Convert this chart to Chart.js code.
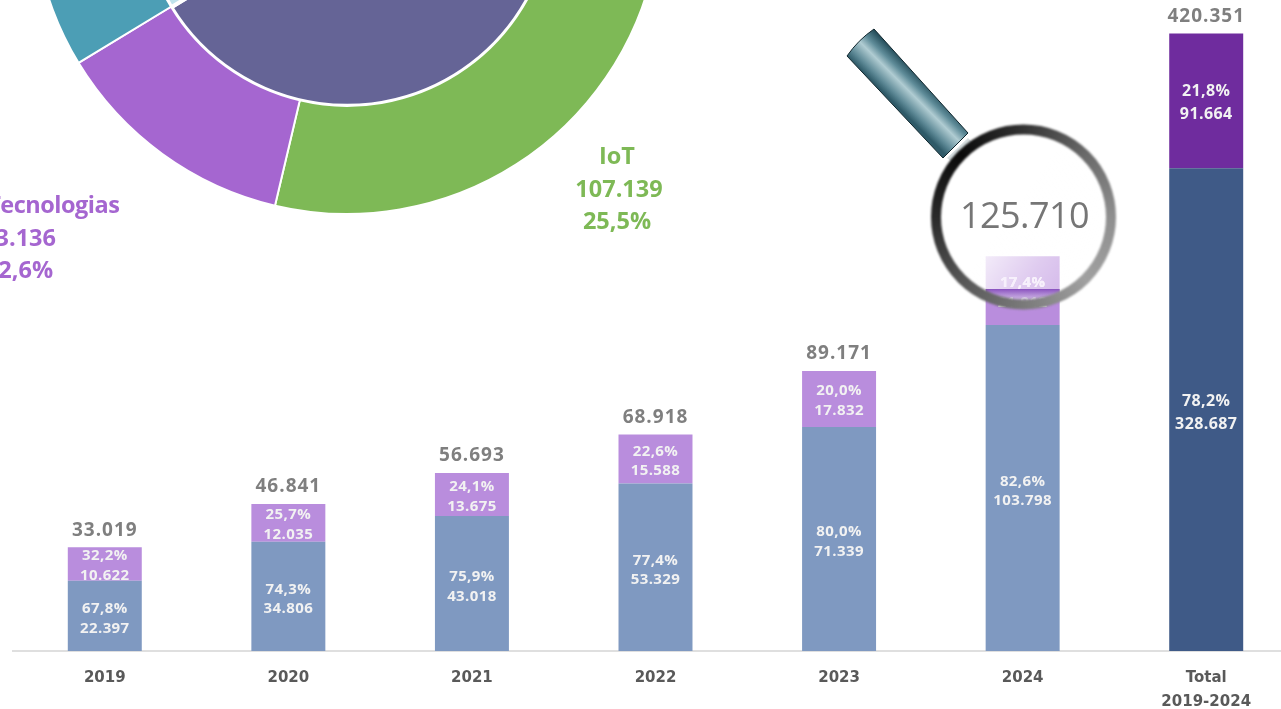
<!DOCTYPE html>
<html>
<head>
<meta charset="utf-8">
<style>
html,body{margin:0;padding:0;width:1281px;height:709px;overflow:hidden;background:#fff}
#wrap{position:relative;width:1281px;height:709px;overflow:hidden}
#ring{position:absolute;left:32px;top:-415px;filter:blur(.35px)}
#bars{position:absolute;left:0;top:0;filter:blur(.3px)}
</style>
<script src="https://cdn.jsdelivr.net/npm/chart.js@4/dist/chart.umd.min.js"></script>
</head>
<body>
<div id="wrap">
<canvas id="ring" width="630" height="630"></canvas>
<canvas id="bars" width="1298" height="709"></canvas>
</div>
<script>
const categories = ['2019','2020','2021','2022','2023','2024',['Total','2019-2024']];
const blueValues   = [22397,34806,43018,53329,71339,103798,null];
const purpleValues = [10622,12035,13675,15588,17832,21912,null];
const totalBlue    = [null,null,null,null,null,null,328687];
const totalPurple  = [null,null,null,null,null,null,91664];
const blueText   = ['22.397','34.806','43.018','53.329','71.339','103.798','328.687'];
const purpleText = ['10.622','12.035','13.675','15.588','17.832','21.912','91.664'];
const bluePct    = ['67,8%','74,3%','75,9%','77,4%','80,0%','82,6%','78,2%'];
const purplePct  = ['32,2%','25,7%','24,1%','22,6%','20,0%','17,4%','21,8%'];
const totalText  = ['33.019','46.841','56.693','68.918','89.171','125.710','420.351'];

const outerNames  = ['IoT','Otras Tecnologias','Resto'];
const outerValues = [107139,53136,260076];
const outerShares = ['25,5%','12,6%'];
const outerValueText = ['107.139','53.136'];
const innerValues = [328687,91664];

const FONT = '"Open Sans"';

new Chart(document.getElementById('ring'),{
  type:'doughnut',
  data:{labels:outerNames,datasets:[
    {data:outerValues,rotation:101.5,backgroundColor:['#7EB956','#A566D0','#4C9EB5'],borderColor:'#fff',borderWidth:2,hoverOffset:0,weight:108.5},
    {data:innerValues,rotation:-42.9,backgroundColor:['#656496','#BFE3EC'],borderColor:'#fff',borderWidth:4,hoverOffset:0,weight:206.5}
  ]},
  options:{responsive:false,animation:false,cutout:0,events:[],
    plugins:{legend:{display:false},tooltip:{enabled:false}},layout:{padding:0}}
});

function text(ctx,s,x,y,font,color,spacing){
  ctx.font=font;ctx.fillStyle=color;ctx.textAlign='center';ctx.textBaseline='middle';
  ctx.letterSpacing=spacing||'0px';
  ctx.fillText(s,x,y+2);
  ctx.letterSpacing='0px';
}

function drawMagnifier(ctx,bar){
  const cx=1023.5,cy=217;
  ctx.save();
  const hg=ctx.createLinearGradient(847,56,874,29);
  hg.addColorStop(0,'#2f5a68');hg.addColorStop(.18,'#5b8794');hg.addColorStop(.5,'#b0ccd2');
  hg.addColorStop(.72,'#5f8c99');hg.addColorStop(1,'#1f4855');
  ctx.beginPath();ctx.moveTo(874,29);ctx.lineTo(968,133);ctx.lineTo(943,158);ctx.lineTo(847,56);
  ctx.quadraticCurveTo(858,40,874,29);ctx.closePath();
  ctx.fillStyle=hg;ctx.fill();ctx.strokeStyle='#10262d';ctx.lineWidth=1;ctx.stroke();
  ctx.beginPath();ctx.moveTo(968,138);ctx.lineTo(972,142);ctx.lineTo(952,162);ctx.lineTo(947,158);ctx.closePath();
  ctx.fillStyle='#d8e0e2';ctx.fill();
  ctx.restore();
  // glass: whitening above its lower edge, darker refraction band below it
  ctx.save();
  ctx.beginPath();ctx.arc(cx,cy,84,0,Math.PI*2);ctx.clip();
  const lg=ctx.createLinearGradient(985,250,1055,300);
  lg.addColorStop(0,'rgba(255,255,255,.85)');
  lg.addColorStop(.6,'rgba(255,255,255,.55)');
  lg.addColorStop(1,'rgba(255,255,255,.4)');
  ctx.fillStyle=lg;ctx.fillRect(cx-90,cy-90,180,162);
  const dg=ctx.createLinearGradient(0,289,0,299);
  dg.addColorStop(0,'rgba(120,60,180,.75)');
  dg.addColorStop(1,'rgba(215,200,232,.6)');
  ctx.fillStyle=dg;
  ctx.fillRect(bar.x-bar.width/2,289,bar.width,12);
  ctx.restore();
  const cg=ctx.createConicGradient(-Math.PI/4,cx,cy);
  cg.addColorStop(0,'#6a6a6a');cg.addColorStop(.125,'#8f8f8f');cg.addColorStop(.25,'#a0a0a0');
  cg.addColorStop(.375,'#7a7a7a');cg.addColorStop(.5,'#555');cg.addColorStop(.625,'#2a2a2a');
  cg.addColorStop(.75,'#0a0a0a');cg.addColorStop(.875,'#333');cg.addColorStop(1,'#6a6a6a');
  ctx.save();
  ctx.filter='blur(.8px)';
  ctx.beginPath();ctx.arc(cx,cy,87.5,0,Math.PI*2);
  ctx.strokeStyle=cg;ctx.lineWidth=10;ctx.stroke();
  ctx.restore();
}

const labelPlugin={
  id:'labelPlugin',
  afterDatasetsDraw(chart){
    const ctx=chart.ctx;
    const labelFont=i=>`700 ${i===6?16:15}px ${FONT}`;
    const step=i=>i===6?11.5:9.8;
    const seg=(dsIndex,i,top,bottom,dy)=>{
      const el=chart.getDatasetMeta(dsIndex).data[i];
      const x=el.x,y=(el.y+el.base)/2+(dy||0);
      text(ctx,top,x,y-step(i),labelFont(i),'#F2F2F2','0.4px');
      text(ctx,bottom,x,y+step(i),labelFont(i),'#F2F2F2','0.4px');
    };
    categories.forEach((c,i)=>{
      const bd=i===6?2:0, pd=i===6?3:1;
      seg(bd,i,bluePct[i],blueText[i],1);
      seg(pd,i,purplePct[i],purpleText[i],0);
      if(i!==5){
        const el=chart.getDatasetMeta(pd).data[i];
        text(ctx,totalText[i],el.x,el.y-19,`700 19px ${FONT}`,'#7F7F7F','1px');
      }
    });
    const el=chart.getDatasetMeta(1).data[5];
    drawMagnifier(ctx,el);
    text(ctx,purplePct[5],el.x,(el.y+el.base)/2-step(5),labelFont(5),'#F7F0FC','0.4px');
    text(ctx,totalText[5],1024.5,216,`500 36px ${FONT}`,'#767676','-0.6px');
    const rf=`700 23.5px ${FONT}`;
    text(ctx,outerNames[0],617,155,rf,'#7EB956');
    text(ctx,outerValueText[0],619,188,rf,'#7EB956');
    text(ctx,outerShares[0],617,220,rf,'#7EB956');
    text(ctx,outerNames[1],19,204,rf,'#A566D0','-0.5px');
    text(ctx,outerValueText[1],19,237,rf,'#A566D0');
    text(ctx,outerShares[1],19,269,rf,'#A566D0');
  }
};

new Chart(document.getElementById('bars'),{
  type:'bar',
  data:{labels:categories,datasets:[
    {data:blueValues,backgroundColor:'#7F99C1',stack:'s',yAxisID:'y'},
    {data:purpleValues,backgroundColor:'#B98DDD',stack:'s',yAxisID:'y'},
    {data:totalBlue,backgroundColor:'#3F5A87',stack:'s',yAxisID:'y2'},
    {data:totalPurple,backgroundColor:'#6F2C9E',stack:'s',yAxisID:'y2'}
  ]},
  options:{responsive:false,animation:false,events:[],
    layout:{padding:{left:13,right:0,top:0,bottom:0}},
    barPercentage:.403,categoryPercentage:1,
    plugins:{legend:{display:false},tooltip:{enabled:false}},
    scales:{
      x:{stacked:true,
        afterFit(s){s.height=58;},
        grid:{display:false,drawTicks:false},
        border:{display:true,color:'#DFDFDF',width:2},
        ticks:{color:'#595959',font:{family:'"DejaVu Sans"',size:15,weight:'700',lineHeight:1.6},padding:15,maxRotation:0,autoSkip:false}},
      y:{display:false,stacked:true,min:0,max:207325},
      y2:{display:false,stacked:true,position:'right',min:0,max:443170}
    }
  },
  plugins:[labelPlugin]
});
</script>
</body>
</html>
